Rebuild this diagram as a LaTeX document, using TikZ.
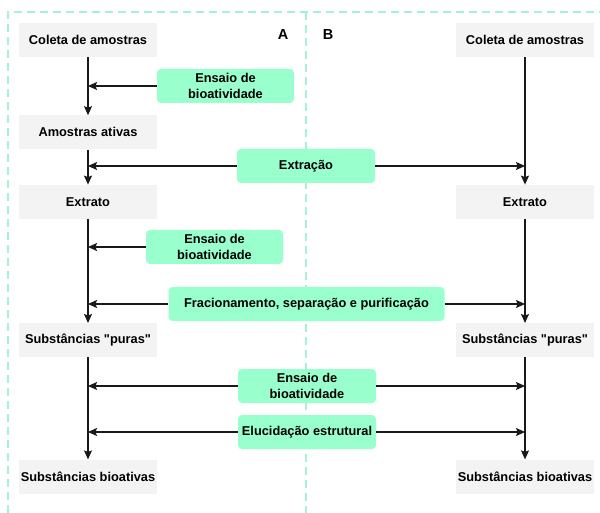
\documentclass[tikz,border=0pt]{standalone}
\usepackage{fontspec}
\setmainfont{Liberation Sans}[Ligatures=TeXOff]
\usepackage{xcolor}
\usetikzlibrary{arrows.meta, positioning, calc}

\definecolor{greybox}{HTML}{F3F3F3}
\definecolor{mint}{HTML}{99FFCC}
\definecolor{dashmint}{HTML}{A6F2D2}

\begin{document}
\begin{tikzpicture}[
    x=1pt, y=-1pt,
    node distance=35pt and 20pt,
    stage/.style={rectangle, fill=greybox, minimum height=34pt,
      minimum width=138pt, inner sep=2pt, align=center,
      font=\fontsize{12.8}{15}\selectfont\bfseries},
    assay/.style={rectangle, rounded corners=4pt, fill=mint, minimum height=34pt,
      minimum width=137pt, inner sep=3pt, align=center,
      font=\fontsize{12.8}{16}\selectfont\bfseries},
    arrow/.style={line width=1.1pt, color=black!90, -{Stealth[length=9pt,width=8pt,inset=1.5pt]}},
    frame/.style={dashmint, line width=2pt, dash pattern=on 8pt off 5pt}
]
\useasboundingbox (0,0) rectangle (600,513);

% dashed frame and divider
\draw[frame] (8,513) -- (8,12) -- (600,12);
\draw[frame] (306,12) -- (306,513);
\node[font=\fontsize{14.5}{16}\selectfont\bfseries] (labA) at (283,35) {A};
\node[font=\fontsize{14.5}{16}\selectfont\bfseries] (labB) at (328,35) {B};

% column A
\node[stage] (colA) at (88,40) {Coleta de amostras};
\node[stage, below=58pt of colA] (amA) {Amostras ativas};
\node[stage, below=35pt of amA] (extA) {Extrato};
\node[stage, below=104pt of extA] (purA) {Substâncias "puras"};
\node[stage, below=102pt of purA] (bioA) {Substâncias bioativas};

% column B
\node[stage] (colB) at (525,40) {Coleta de amostras};
\node[stage] (extB) at (colB |- extA) {Extrato};
\node[stage] (purB) at (colB |- purA) {Substâncias "puras"};
\node[stage] (bioB) at (colB |- bioA) {Substâncias bioativas};

% steps
\node[assay] (ens1) at (225.5,86) {Ensaio de\\bioatividade};
\node[assay, minimum width=138pt] (extr) at (306,166) {Extração};
\node[assay] (ens2) at (214.5,247) {Ensaio de\\bioatividade};
\node[assay, minimum width=276pt] (frac) at (306.5,304) {Fracionamento, separação e purificação};
\node[assay, minimum width=138pt] (ens3) at (307,386) {Ensaio de\\bioatividade};
\node[assay, minimum width=138pt] (eluc) at (307,432) {Elucidação estrutural};

% vertical flow
\draw[arrow] (colA) -- (amA);
\draw[arrow] (amA) -- (extA);
\draw[arrow] (extA) -- (purA);
\draw[arrow] (purA) -- (bioA);
\draw[arrow] (colB) -- (extB);
\draw[arrow] (extB) -- (purB);
\draw[arrow] (purB) -- (bioB);

% side inputs
\draw[arrow] (ens1.west) -- (ens1 -| colA);
\draw[arrow] (extr.west) -- (extr -| colA);
\draw[arrow] (extr.east) -- (extr -| colB);
\draw[arrow] (ens2.west) -- (ens2 -| colA);
\draw[arrow] (frac.west) -- (frac -| colA);
\draw[arrow] (frac.east) -- (frac -| colB);
\draw[arrow] (ens3.west) -- (ens3 -| colA);
\draw[arrow] (ens3.east) -- (ens3 -| colB);
\draw[arrow] (eluc.west) -- (eluc -| colA);
\draw[arrow] (eluc.east) -- (eluc -| colB);
\end{tikzpicture}
\end{document}
